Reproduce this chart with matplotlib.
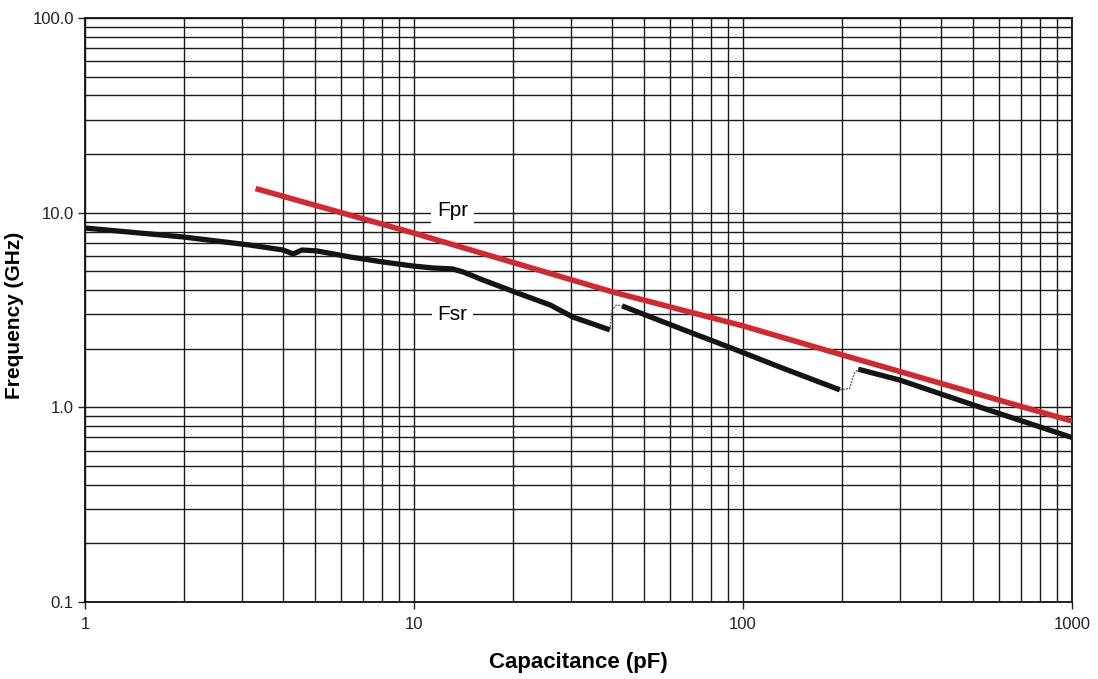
import matplotlib.pyplot as plt
from matplotlib.ticker import LogLocator, NullFormatter

plt.rcParams['font.family'] = ['Liberation Sans', 'DejaVu Sans']

# Fpr curve (red)
fpr_c = [3.3, 10, 40, 100, 200, 500, 1000]
fpr_f = [13.3, 7.85, 3.92, 2.62, 1.86, 1.19, 0.85]

# Fsr curve (black), three segments
fsr1_c = [1, 1.99, 3.17, 4.0, 4.29, 4.57, 5.07, 6.39, 8.05, 9.93, 11.4, 13.1, 14.1,
          16.2, 20.6, 25.9, 30.4, 39.4]
fsr1_f = [8.34, 7.50, 6.82, 6.43, 6.14, 6.43, 6.36, 5.92, 5.58, 5.32, 5.20, 5.14, 4.96,
          4.51, 3.87, 3.36, 2.91, 2.50]
fsr2_c = [42.9, 65.7, 91.3, 132, 197]
fsr2_f = [3.32, 2.51, 2.03, 1.59, 1.23]
fsr3_c = [224, 300, 500, 1000]
fsr3_f = [1.57, 1.38, 1.03, 0.70]

# dotted transitions between segments
jump1_c = [39.4, 40.0, 41.2, 42.9]
jump1_f = [2.50, 3.15, 3.35, 3.32]
jump2_c = [197, 211, 218, 224]
jump2_f = [1.23, 1.25, 1.50, 1.57]

xticks = [1, 10, 100, 1000]
xlabels = ['1', '10', '100', '1000']
yticks = [0.1, 1, 10, 100]
ylabels = ['0.1', '1.0', '10.0', '100.0']

fig = plt.figure(figsize=(10.98, 6.79), dpi=100)
ax = fig.add_axes([0.0774, 0.1134, 0.8989, 0.8601])
ax.set_xscale('log')
ax.set_yscale('log')
ax.set_xlim(1, 1000)
ax.set_ylim(0.1, 100)

ax.xaxis.set_minor_locator(LogLocator(base=10, subs=range(2, 10)))
ax.yaxis.set_minor_locator(LogLocator(base=10, subs=range(2, 10)))
ax.xaxis.set_minor_formatter(NullFormatter())
ax.yaxis.set_minor_formatter(NullFormatter())
ax.grid(True, which='both', color='#1a1a1a', linewidth=1.0)
ax.set_axisbelow(True)

ax.set_xticks(xticks, xlabels)
ax.set_yticks(yticks, ylabels)
ax.tick_params(which='major', direction='out', length=5, width=1, labelsize=12,
               colors='#222222')
ax.tick_params(axis='y', pad=3)
ax.tick_params(axis='x', pad=6)
ax.tick_params(which='minor', length=0)
for s in ax.spines.values():
    s.set_linewidth(1.3)
    s.set_color('#111111')

ax.plot(fpr_c, fpr_f, color='#cf2a30', linewidth=4, solid_capstyle='butt', zorder=4)
ax.plot(fsr1_c, fsr1_f, color='#141414', linewidth=3.8, solid_capstyle='butt', zorder=3)
ax.plot(fsr2_c, fsr2_f, color='#141414', linewidth=3.8, solid_capstyle='butt', zorder=3)
ax.plot(fsr3_c, fsr3_f, color='#141414', linewidth=3.8, solid_capstyle='butt', zorder=3)
ax.plot(jump1_c, jump1_f, color='#555555', linewidth=0.9, linestyle=(0, (1.5, 1)), zorder=3)
ax.plot(jump2_c, jump2_f, color='#555555', linewidth=0.9, linestyle=(0, (1.5, 1)), zorder=3)

box = dict(facecolor='white', edgecolor='none', pad=4)
ax.text(13.1, 10.2, 'Fpr', fontsize=15, ha='center', va='center', bbox=box, zorder=2.5)
ax.text(13.1, 3.0, 'Fsr', fontsize=15, ha='center', va='center', bbox=box, zorder=2.5)

ax.set_xlabel('Capacitance (pF)', fontsize=16, fontweight='bold', labelpad=14)
ax.set_ylabel('Frequency (GHz)', fontsize=15, fontweight='bold')
ax.yaxis.set_label_coords(-0.062, 0.49)

fig.savefig('out.png', dpi=100)
